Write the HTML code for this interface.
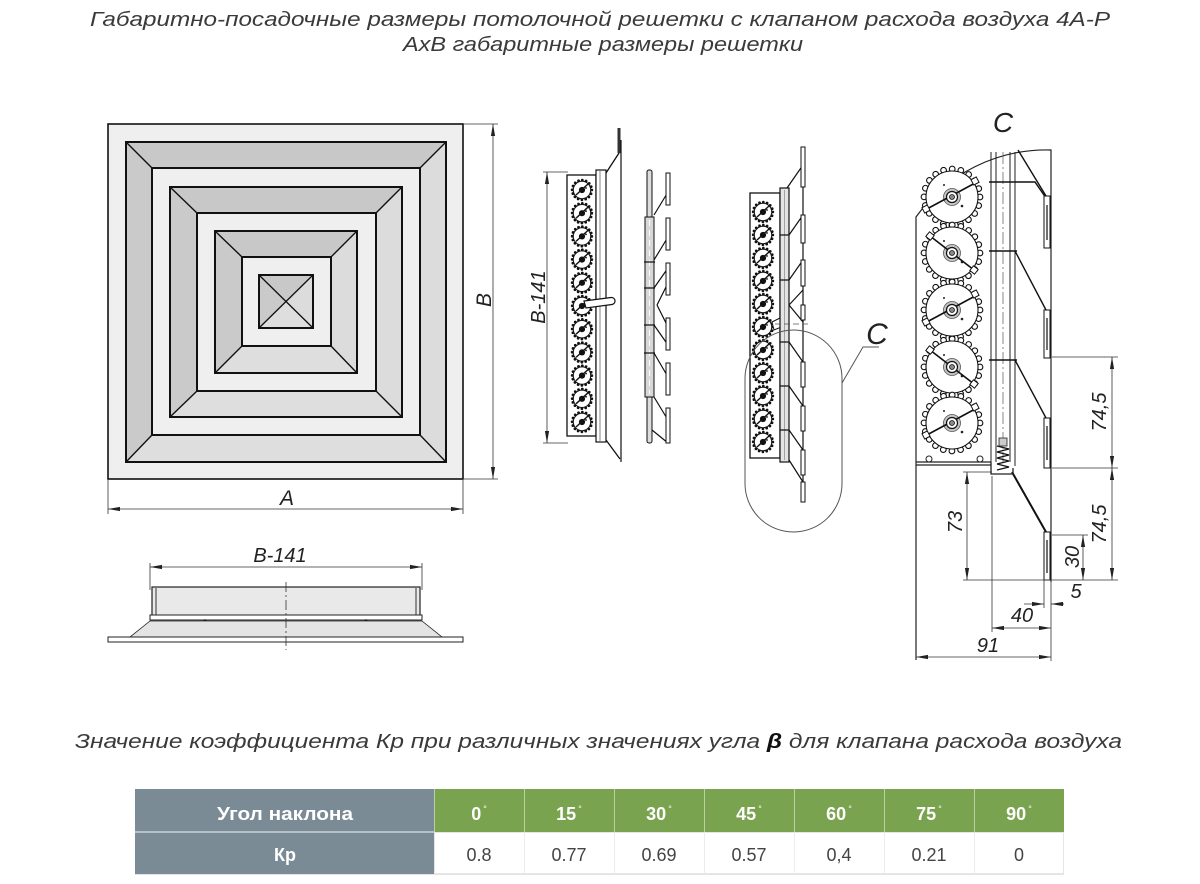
<!DOCTYPE html>
<html><head><meta charset="utf-8"><style>
html,body{margin:0;padding:0;background:#fff;}
svg{display:block;}
text{font-family:"Liberation Sans","DejaVu Sans",sans-serif;}
</style></head><body>
<svg width="1200" height="884" viewBox="0 0 1200 884" xmlns="http://www.w3.org/2000/svg">
<defs>
<marker id="ar" viewBox="0 0 12 6" refX="12" refY="3" markerWidth="12" markerHeight="6" orient="auto-start-reverse" markerUnits="userSpaceOnUse"><path d="M0,0.9 L12,3 L0,5.1 z" fill="#222"/></marker>
<g id="sg">
<circle r="9.8" fill="none" stroke="#111" stroke-width="2.8" stroke-linecap="round" stroke-dasharray="0 3.85"/>
<circle r="8.7" fill="#fff" stroke="#111" stroke-width="1"/>
<path d="M-6,5 L6,-6" stroke="#111" stroke-width="1.4"/>
<circle r="3.1" fill="#111"/>
<circle cx="4" cy="-2" r="0.9" fill="#111"/>
</g>
<g id="lg">
<circle r="28" fill="none" stroke="#111" stroke-width="6.8" stroke-linecap="round" stroke-dasharray="0 8.796"/>
<circle r="28" fill="none" stroke="#fff" stroke-width="4.6" stroke-linecap="round" stroke-dasharray="0 8.796"/>
<circle r="26" fill="#fff" stroke="#111" stroke-width="1.1"/>
<circle r="8.5" fill="#c4c4c4" stroke="#555" stroke-width="0.8"/>
<circle cx="10" cy="9" r="1.3" fill="#222"/>
<circle cx="-8" cy="-12" r="1" fill="#222"/>
</g>
<g id="armA">
<path d="M-27,13 L25,-15" stroke="#111" stroke-width="1.6"/>
<rect x="-29" y="9" width="6" height="6" fill="#fff" stroke="#111" stroke-width="1" transform="rotate(-28 -26 12)"/>
<rect x="20" y="-19" width="6" height="6" fill="#fff" stroke="#111" stroke-width="1" transform="rotate(-28 23 -16)"/>
<circle r="5.5" fill="#fff" stroke="#111" stroke-width="1.2"/>
<circle r="2.5" fill="#888" stroke="#111" stroke-width="0.8"/>
</g>
<g id="armB">
<path d="M-22,-17 L22,17" stroke="#111" stroke-width="1.6"/>
<rect x="-25" y="-20" width="6" height="6" fill="#fff" stroke="#111" stroke-width="1" transform="rotate(38 -22 -17)"/>
<rect x="19" y="14" width="6" height="6" fill="#fff" stroke="#111" stroke-width="1" transform="rotate(38 22 17)"/>
<circle r="5.5" fill="#fff" stroke="#111" stroke-width="1.2"/>
<circle r="2.5" fill="#888" stroke="#111" stroke-width="0.8"/>
</g>
</defs>

<!-- Titles -->
<text x="90" y="26" font-size="20" font-style="italic" fill="#3a3a3a" textLength="1020" lengthAdjust="spacingAndGlyphs">Габаритно-посадочные размеры потолочной решетки с клапаном расхода воздуха 4А-Р</text>
<text x="403" y="51" font-size="20" font-style="italic" fill="#3a3a3a" textLength="400" lengthAdjust="spacingAndGlyphs">АхВ габаритные размеры решетки</text>

<!-- Grille front view -->
<g stroke-linejoin="miter">
<rect x="108" y="124" width="355" height="355" fill="#efefef" stroke="#111" stroke-width="1.6"/>
<polygon points="126,142 446,142 420,168 152,168" fill="#c8c8c8"/>
<polygon points="126,142 152,168 152,435 126,462" fill="#cacaca"/>
<polygon points="446,142 446,462 420,435 420,168" fill="#dcdcdc"/>
<polygon points="126,462 152,435 420,435 446,462" fill="#dedede"/>
<rect x="126" y="142" width="320" height="320" fill="none" stroke="#111" stroke-width="2"/>
<rect x="152" y="168" width="268" height="267" fill="#efefef" stroke="#111" stroke-width="2"/>
<path d="M126,142 L152,168 M446,142 L420,168 M446,462 L420,435 M126,462 L152,435" stroke="#111" stroke-width="1.4"/>
<polygon points="170,187 402,187 376,213 197,213" fill="#c8c8c8"/>
<polygon points="170,187 197,213 197,391 170,417" fill="#cacaca"/>
<polygon points="402,187 402,417 376,391 376,213" fill="#dcdcdc"/>
<polygon points="170,417 197,391 376,391 402,417" fill="#dedede"/>
<rect x="170" y="187" width="232" height="230" fill="none" stroke="#111" stroke-width="2"/>
<rect x="197" y="213" width="179" height="178" fill="#efefef" stroke="#111" stroke-width="2"/>
<path d="M170,187 L197,213 M402,187 L376,213 M402,417 L376,391 M170,417 L197,391" stroke="#111" stroke-width="1.4"/>
<polygon points="215,231 357,231 331,257 242,257" fill="#c8c8c8"/>
<polygon points="215,231 242,257 242,346 215,373" fill="#cacaca"/>
<polygon points="357,231 357,373 331,346 331,257" fill="#dcdcdc"/>
<polygon points="215,373 242,346 331,346 357,373" fill="#dedede"/>
<rect x="215" y="231" width="142" height="142" fill="none" stroke="#111" stroke-width="2"/>
<rect x="242" y="257" width="89" height="89" fill="#efefef" stroke="#111" stroke-width="2"/>
<path d="M215,231 L242,257 M357,231 L331,257 M357,373 L331,346 M215,373 L242,346" stroke="#111" stroke-width="1.4"/>
<polygon points="259,275 313,275 286,301.5" fill="#c8c8c8"/>
<polygon points="259,275 286,301.5 259,328" fill="#cacaca"/>
<polygon points="313,275 313,328 286,301.5" fill="#dcdcdc"/>
<polygon points="259,328 286,301.5 313,328" fill="#dedede"/>
<rect x="259" y="275" width="54" height="53" fill="none" stroke="#111" stroke-width="2"/>
<path d="M259,275 L313,328 M313,275 L259,328" stroke="#111" stroke-width="1.3"/>
</g>
<g stroke="#333" stroke-width="0.8" fill="none">
<line x1="464" y1="124" x2="498" y2="124"/>
<line x1="464" y1="479" x2="498" y2="479"/>
<line x1="493" y1="124" x2="493" y2="479" marker-start="url(#ar)" marker-end="url(#ar)"/>
<line x1="108" y1="480" x2="108" y2="514"/>
<line x1="463" y1="480" x2="463" y2="514"/>
<line x1="108" y1="509" x2="463" y2="509" marker-start="url(#ar)" marker-end="url(#ar)"/>
</g>
<text x="287" y="505" font-size="21" font-style="italic" fill="#222" text-anchor="middle">A</text>
<text transform="translate(491,300) rotate(-90)" font-size="21" font-style="italic" fill="#222" text-anchor="middle">B</text>

<!-- Bottom section view -->
<text x="280" y="562" font-size="20" font-style="italic" fill="#222" text-anchor="middle">B-141</text>
<g stroke="#333" stroke-width="0.8" fill="none">
<line x1="150" y1="563" x2="150" y2="590"/>
<line x1="422" y1="563" x2="422" y2="590"/>
<line x1="150" y1="567" x2="422" y2="567" marker-start="url(#ar)" marker-end="url(#ar)"/>
</g>
<rect x="152" y="587" width="268" height="30" fill="#e9e9e9" stroke="#222" stroke-width="1.2"/>
<path d="M156,588 L156,616 M416,588 L416,616" stroke="#333" stroke-width="1"/>
<rect x="150" y="615" width="272" height="5" fill="#fff" stroke="#222" stroke-width="1"/>
<circle cx="205" cy="621" r="1.8" fill="#222"/>
<circle cx="366" cy="621" r="1.8" fill="#222"/>
<polygon points="150,621 422,621 442,637 130,637" fill="#e4e4e4" stroke="#222" stroke-width="0.8"/>
<rect x="108" y="637" width="355" height="5" fill="#fff" stroke="#222" stroke-width="1"/>
<line x1="286" y1="582" x2="286" y2="650" stroke="#333" stroke-width="0.8" stroke-dasharray="10 3 2 3"/>

<!-- Side view 1 -->
<g stroke="#333" stroke-width="0.8" fill="none">
<line x1="543" y1="172" x2="568" y2="172"/>
<line x1="543" y1="443" x2="568" y2="443"/>
<line x1="547" y1="172" x2="547" y2="443" marker-start="url(#ar)" marker-end="url(#ar)"/>
</g>
<text transform="translate(545,297) rotate(-90)" font-size="20" font-style="italic" fill="#222" text-anchor="middle">B-141</text>
<rect x="567" y="175" width="29" height="261" fill="#fff" stroke="#111" stroke-width="1.3"/>
<g>
<use href="#sg" x="582" y="190"/><use href="#sg" x="582" y="213.2"/><use href="#sg" x="582" y="236.4"/><use href="#sg" x="582" y="259.6"/><use href="#sg" x="582" y="282.8"/><use href="#sg" x="582" y="306"/><use href="#sg" x="582" y="329.2"/><use href="#sg" x="582" y="352.4"/><use href="#sg" x="582" y="375.6"/><use href="#sg" x="582" y="398.8"/><use href="#sg" x="582" y="422"/>
</g>
<rect x="596" y="170" width="10" height="272" fill="#fff" stroke="#111" stroke-width="1.2"/>
<line x1="600" y1="171" x2="600" y2="441" stroke="#333" stroke-width="0.6"/>
<path d="M606,173 L619,153 L619,128 M606,440 L620,459" fill="none" stroke="#111" stroke-width="1.3"/>
<rect x="617.5" y="128" width="3" height="25" fill="#333"/>
<line x1="621" y1="140" x2="621" y2="462" stroke="#111" stroke-width="1.2"/>
<path d="M584,301 L611,297.5 a3.5,3.5 0 0 1 1,7 L586,308 z" fill="#fff" stroke="#111" stroke-width="1.2"/>

<!-- Side view 2 (blades) -->
<rect x="647" y="170" width="5" height="273" rx="2" fill="#ddd" stroke="#111" stroke-width="1"/>
<rect x="645" y="217" width="9" height="180" fill="#d8d8d8" stroke="#111" stroke-width="1"/>
<line x1="649.5" y1="220" x2="649.5" y2="394" stroke="#fff" stroke-width="1" stroke-dasharray="6 4"/>
<g stroke="#111" stroke-width="1.2" fill="none">
<path d="M644,262 L655,262 M644,288 L655,288 M644,325 L655,325 M644,353 L655,353"/>
<path d="M654,215 L668,192 M654,260 L668,237 M654,288 L668,268 M657,305 L668,283 M657,305 L668,327 M654,325 L668,345 M654,353 L668,377 M654,397 L668,420 M652,430 L668,443"/>
</g>
<g fill="#fff" stroke="#111" stroke-width="1">
<rect x="666" y="173" width="4" height="32"/><rect x="666" y="218" width="4" height="32"/><rect x="666" y="263" width="4" height="32"/><rect x="666" y="318" width="4" height="32"/><rect x="666" y="363" width="4" height="32"/><rect x="666" y="408" width="4" height="35"/>
</g>

<!-- Middle view -->
<rect x="750" y="193" width="30" height="265" fill="#fff" stroke="#111" stroke-width="1.3"/>
<g>
<use href="#sg" x="763" y="212"/><use href="#sg" x="763" y="235"/><use href="#sg" x="763" y="258"/><use href="#sg" x="763" y="281"/><use href="#sg" x="763" y="304"/><use href="#sg" x="763" y="327"/><use href="#sg" x="763" y="350"/><use href="#sg" x="763" y="373"/><use href="#sg" x="763" y="396"/><use href="#sg" x="763" y="419"/><use href="#sg" x="763" y="442"/>
</g>
<path d="M772,322 L782,317 L784,326 L774,330 z" fill="#fff" stroke="#111" stroke-width="1"/>
<rect x="780" y="188" width="9" height="274" fill="#e4e4e4" stroke="#111" stroke-width="1.2"/>
<line x1="784.5" y1="190" x2="784.5" y2="460" stroke="#777" stroke-width="0.6"/>
<line x1="803" y1="147" x2="803" y2="502" stroke="#111" stroke-width="1.2"/>
<g stroke="#111" stroke-width="1.2" fill="none">
<path d="M787,188 L803,165 M789,235 L803,215 M789,280 L803,260 M789,305 L803,290 M789,305 L803,322 M789,342 L803,362 M789,386 L803,406 M789,430 L803,450 M789,460 L803,482"/>
<path d="M780,235 L789,235 M780,280 L789,280 M780,342 L789,342 M780,386 L789,386 M780,430 L789,430"/>
</g>
<g fill="#fff" stroke="#111" stroke-width="1">
<rect x="801" y="147" width="4" height="40"/><rect x="801" y="215" width="4" height="28"/><rect x="801" y="260" width="4" height="26"/><rect x="801" y="305" width="4" height="15"/><rect x="801" y="362" width="4" height="25"/><rect x="801" y="406" width="4" height="25"/><rect x="801" y="450" width="4" height="25"/><rect x="801" y="482" width="4" height="20"/>
</g>
<line x1="775" y1="324" x2="811" y2="324" stroke="#555" stroke-width="0.8" stroke-dasharray="6 3"/>
<rect x="745" y="330" width="97" height="202" rx="48.5" fill="none" stroke="#555" stroke-width="1"/>
<path d="M842,383 L863,347 L879,347" fill="none" stroke="#555" stroke-width="1"/>
<text x="877" y="344" font-size="30" font-style="italic" fill="#222" text-anchor="middle">C</text>

<!-- Detail C -->
<text x="1003" y="132" font-size="28" font-style="italic" fill="#222" text-anchor="middle">C</text>
<path d="M916,660 L916,217 A160,160 0 0 1 1051,150 L1051,582" fill="none" stroke="#222" stroke-width="1.2"/>
<g stroke="#222" stroke-width="1" fill="none">
<path d="M991,152 L991,466 M996,152 L996,462 M1010,152 L1010,462 M1015,152 L1015,466"/>
</g>
<line x1="1003" y1="152" x2="1003" y2="462" stroke="#555" stroke-width="0.7" stroke-dasharray="12 3 2 3"/>
<g>
<use href="#lg" x="952" y="197"/>
<use href="#lg" x="952" y="253"/>
<use href="#lg" x="952" y="310"/>
<use href="#lg" x="952" y="367"/>
<use href="#lg" x="952" y="423"/>
<use href="#armA" x="952" y="197"/>
<use href="#armB" x="952" y="253"/>
<use href="#armA" x="952" y="310"/>
<use href="#armB" x="952" y="367"/>
<use href="#armA" x="952" y="423"/>
</g>
<g stroke="#111" stroke-width="1.4" fill="none">
<path d="M1018,150 L1046,196"/>
<path d="M989,182 L1035,182 L1046,198"/>
<path d="M989,251 L1017,251 M1015,251 L1046,310"/>
<path d="M989,360 L1017,360 M1015,360 L1046,418"/>
<path d="M1012,472 L1046,532" stroke-width="2"/>
</g>
<g fill="#fff" stroke="#111" stroke-width="1">
<rect x="1044" y="196" width="6" height="52"/>
<rect x="1044" y="310" width="6" height="48"/>
<rect x="1044" y="418" width="6" height="50"/>
<rect x="1044" y="532" width="6" height="48"/>
</g>
<g stroke="#333" stroke-width="1.4">
<line x1="1047" y1="205" x2="1047" y2="240"/>
<line x1="1047" y1="318" x2="1047" y2="350"/>
<line x1="1047" y1="426" x2="1047" y2="460"/>
<line x1="1047" y1="540" x2="1047" y2="573"/>
</g>
<path d="M916,462 L991,462 M916,465 L991,465" stroke="#222" stroke-width="1.2"/>
<circle cx="929" cy="459" r="3" fill="#fff" stroke="#222" stroke-width="1"/>
<circle cx="980" cy="459" r="3" fill="#fff" stroke="#222" stroke-width="1"/>
<path d="M991,462 L991,474 L1013,474 L1013,468" fill="none" stroke="#222" stroke-width="1.3"/>
<path d="M997,446 L1009,449 L997,452 L1009,455 L997,458 L1009,461 L997,464 L1009,467 L997,470" fill="none" stroke="#111" stroke-width="1.3"/>
<rect x="999" y="438" width="8" height="8" fill="#ccc" stroke="#222" stroke-width="0.8"/>
<g stroke="#333" stroke-width="0.8" fill="none">
<line x1="1052" y1="357" x2="1118" y2="357"/>
<line x1="1052" y1="468" x2="1118" y2="468"/>
<line x1="963" y1="580" x2="1118" y2="580"/>
<line x1="963" y1="472" x2="992" y2="472"/>
<line x1="1052" y1="535" x2="1088" y2="535"/>
<line x1="1112" y1="357" x2="1112" y2="468" marker-start="url(#ar)" marker-end="url(#ar)"/>
<line x1="1112" y1="468" x2="1112" y2="580" marker-start="url(#ar)" marker-end="url(#ar)"/>
<line x1="1083" y1="535" x2="1083" y2="580" marker-start="url(#ar)" marker-end="url(#ar)"/>
<line x1="967" y1="472" x2="967" y2="580" marker-start="url(#ar)" marker-end="url(#ar)"/>
<line x1="992" y1="476" x2="992" y2="632"/>
<line x1="1044" y1="580" x2="1044" y2="608"/>
<line x1="1051" y1="580" x2="1051" y2="661"/>
<line x1="1024" y1="604" x2="1044" y2="604" marker-end="url(#ar)"/>
<line x1="1064" y1="604" x2="1051" y2="604" marker-end="url(#ar)"/>
<line x1="992" y1="628" x2="1051" y2="628" marker-start="url(#ar)" marker-end="url(#ar)"/>
<line x1="916" y1="657" x2="1051" y2="657" marker-start="url(#ar)" marker-end="url(#ar)"/>
</g>
<g font-size="20" font-style="italic" fill="#222" text-anchor="middle">
<text transform="translate(1106,412) rotate(-90)">74,5</text>
<text transform="translate(1106,524) rotate(-90)">74,5</text>
<text transform="translate(1079,557) rotate(-90)">30</text>
<text transform="translate(962,522) rotate(-90)">73</text>
<text x="1076" y="598">5</text>
<text x="1022" y="622">40</text>
<text x="988" y="652">91</text>
</g>

<!-- Subtitle -->
<text x="75" y="748" font-size="20" font-style="italic" fill="#3a3a3a" textLength="1047" lengthAdjust="spacingAndGlyphs">Значение коэффициента Кр при различных значениях угла <tspan font-weight="bold" fill="#111">β</tspan> для клапана расхода воздуха</text>

<!-- Table -->
<rect x="135" y="789" width="299" height="85" fill="#7a8b96"/>
<line x1="135" y1="832" x2="434" y2="832" stroke="#c9d1d6" stroke-width="1.5"/>
<rect x="434" y="789" width="630" height="43" fill="#7aa350"/>
<rect x="434.5" y="832.5" width="629" height="41" fill="#fff" stroke="#e6e6e6" stroke-width="1"/>
<g stroke="#b9d0a0" stroke-width="1">
<line x1="434.5" y1="789" x2="434.5" y2="832"/>
<line x1="524.5" y1="789" x2="524.5" y2="832"/><line x1="614.5" y1="789" x2="614.5" y2="832"/><line x1="704.5" y1="789" x2="704.5" y2="832"/><line x1="794.5" y1="789" x2="794.5" y2="832"/><line x1="884.5" y1="789" x2="884.5" y2="832"/><line x1="974.5" y1="789" x2="974.5" y2="832"/>
</g>
<g stroke="#ececec" stroke-width="1">
<line x1="524.5" y1="832" x2="524.5" y2="874"/><line x1="614.5" y1="832" x2="614.5" y2="874"/><line x1="704.5" y1="832" x2="704.5" y2="874"/><line x1="794.5" y1="832" x2="794.5" y2="874"/><line x1="884.5" y1="832" x2="884.5" y2="874"/><line x1="974.5" y1="832" x2="974.5" y2="874"/>
</g>
<line x1="135" y1="874.5" x2="1064" y2="874.5" stroke="#e3e3e3" stroke-width="1"/>
<g font-size="18" font-weight="bold" fill="#fff" text-anchor="middle">
<text x="285" y="820" textLength="136" lengthAdjust="spacingAndGlyphs">Угол наклона</text>
<text x="285" y="861">Кр</text>
<text x="479" y="820">0<tspan font-size="9" font-weight="normal" dx="2" dy="-8">°</tspan></text>
<text x="569" y="820">15<tspan font-size="9" font-weight="normal" dx="2" dy="-8">°</tspan></text>
<text x="659" y="820">30<tspan font-size="9" font-weight="normal" dx="2" dy="-8">°</tspan></text>
<text x="749" y="820">45<tspan font-size="9" font-weight="normal" dx="2" dy="-8">°</tspan></text>
<text x="839" y="820">60<tspan font-size="9" font-weight="normal" dx="2" dy="-8">°</tspan></text>
<text x="929" y="820">75<tspan font-size="9" font-weight="normal" dx="2" dy="-8">°</tspan></text>
<text x="1019" y="820">90<tspan font-size="9" font-weight="normal" dx="2" dy="-8">°</tspan></text>
</g>
<g font-size="18" fill="#444" text-anchor="middle">
<text x="479" y="861">0.8</text>
<text x="569" y="861">0.77</text>
<text x="659" y="861">0.69</text>
<text x="749" y="861">0.57</text>
<text x="839" y="861">0,4</text>
<text x="929" y="861">0.21</text>
<text x="1019" y="861">0</text>
</g>
</svg>
</body></html>
